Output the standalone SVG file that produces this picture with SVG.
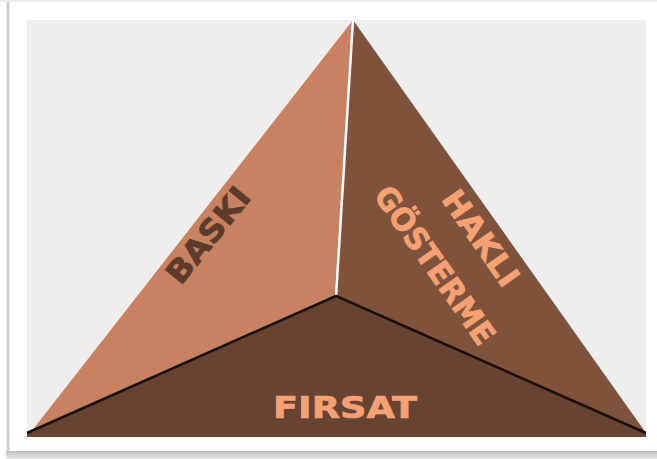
<svg xmlns="http://www.w3.org/2000/svg" width="657" height="459" viewBox="0 0 657 459">
<defs>
<linearGradient id="shB" x1="0" y1="0" x2="0" y2="1">
<stop offset="0" stop-color="#bdbdbd"/>
<stop offset="1" stop-color="#ececec"/>
</linearGradient>
<linearGradient id="shL" x1="0" y1="0" x2="1" y2="0">
<stop offset="0" stop-color="#f2f2f2"/>
<stop offset="0.5" stop-color="#c4c4c4"/>
<stop offset="1" stop-color="#f4f4f4"/>
</linearGradient>
</defs>
<style>
.lbl{font-family:"DejaVu Sans","Liberation Sans",sans-serif;font-weight:bold;font-size:31px;text-anchor:middle;stroke-width:0.7}
.dark{fill:#5c3b2a;stroke:#5c3b2a}
.light{fill:#f5a174;stroke:#f5a174}
</style>
<rect x="0" y="0" width="657" height="459" fill="#ffffff"/>
<rect x="0" y="0" width="657" height="2" fill="#ececec"/>
<rect x="6" y="2" width="4" height="450" fill="url(#shL)"/>
<rect x="6" y="451" width="651" height="8" fill="url(#shB)"/>
<rect x="27" y="20" width="619" height="417" fill="#eeeeee"/>
<g id="baski">
<polygon points="353,20 336,297 27,433 27,437" fill="#c88262"/>
<text class="lbl dark" transform="translate(208,235) rotate(-51)" y="11" textLength="114" lengthAdjust="spacingAndGlyphs">BASKI</text>
</g>
<g id="hakli-gosterme">
<polygon points="353,20 646,433 336,297" fill="#7f523b"/>
<text class="lbl light" transform="translate(481,238) rotate(55)" y="11" textLength="110" lengthAdjust="spacingAndGlyphs">HAKLI</text>
<text class="lbl light" transform="translate(435,265) rotate(55)" y="11" textLength="186" lengthAdjust="spacingAndGlyphs">GÖSTERME</text>
</g>
<g id="firsat">
<polygon points="336,297 27,433 27,437 646,437 646,433" fill="#664332"/>
<text class="lbl light" x="345" y="418" font-size="29" textLength="144" lengthAdjust="spacingAndGlyphs">FIRSAT</text>
</g>
<g id="connectors">
<line x1="353" y1="20" x2="336" y2="297" stroke="#ffffff" stroke-width="2.5"/>
<polyline points="27,433 336,296 646,433" fill="none" stroke="#1a0e08" stroke-width="2.5" stroke-linejoin="round"/>
</g>
</svg>
